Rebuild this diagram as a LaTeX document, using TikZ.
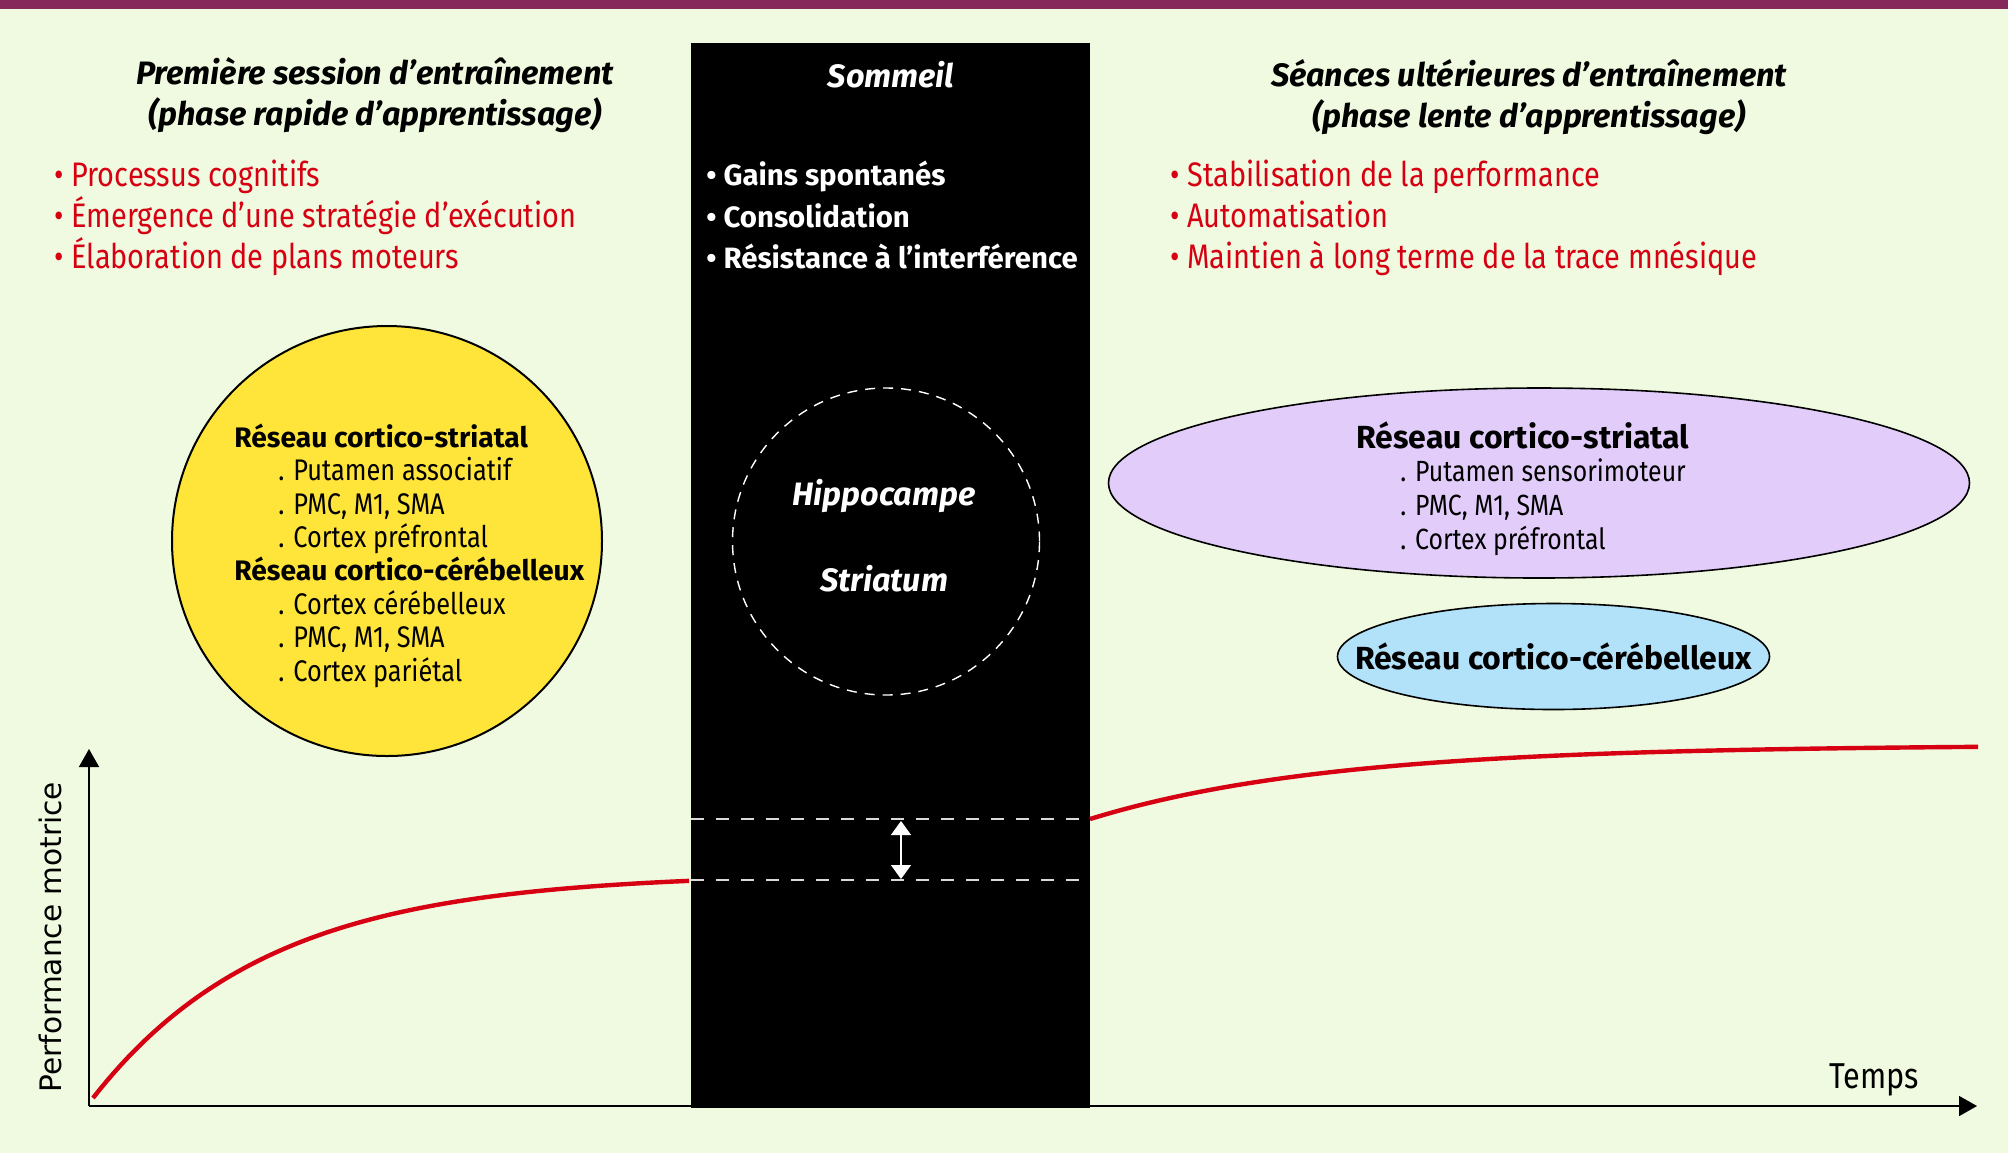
\documentclass[tikz,border=0pt]{standalone}
\usepackage{fontspec}
\setmainfont{Fira Sans}
\newfontfamily\etroit{Fira Sans}[FakeStretch=0.85]
\newfontfamily\axefont{DejaVu Sans}
\usepackage{tikz}
\usetikzlibrary{positioning}
\usetikzlibrary{shapes.geometric}
\usetikzlibrary{arrows.meta}

\definecolor{fond}{RGB}{239,250,224}
\definecolor{bande}{RGB}{134,40,90}
\definecolor{jaune}{RGB}{255,228,58}
\definecolor{lilas}{RGB}{226,205,250}
\definecolor{bleuciel}{RGB}{178,226,250}
\definecolor{rouge}{RGB}{214,0,18}

\tikzset{
  titre/.style={font=\fontsize{16.2}{20.5}\selectfont\bfseries\itshape, align=center, inner sep=0pt},
  liste/.style={font=\etroit\fontsize{17}{20.6}\selectfont, align=left, anchor=west, inner sep=0pt},
  reseau/.style={font=\etroit\fontsize{14.9}{16.7}\selectfont, align=left, anchor=west, inner sep=0pt},
  tirets/.style={white!85!black, line width=0.8pt, dash pattern=on 6.5pt off 6pt},
  courbe/.style={rouge, line width=2.2pt, smooth, samples=80, variable=\t},
  axe/.style={black, line width=0.8pt, -{Triangle[length=9pt,width=10pt]}}
}
\newcommand{\sousitem}{\hspace*{22pt}. }
\newcommand{\entete}[1]{{\rmfamily\bfseries #1}}

\begin{document}
\begin{tikzpicture}[x=0.5pt, y=-0.5pt]
\useasboundingbox (0,0) rectangle (2008,1153);
\fill[fond] (0,0) rectangle (2008,1153);
\fill[bande] (0,0) rectangle (2008,9);

% axes
\coordinate (origine) at (89,1106);
\coordinate (yhaut) at (89,749);
\coordinate (xfin) at (1977,1106);
\draw[axe] (origine) -- (yhaut);
\draw[axe] (origine) -- (xfin);
\node[rotate=90, font=\axefont\fontsize{14.8}{16}\selectfont] (perf) at (50,937) {Performance motrice};
\node[font=\etroit\fontsize{18}{20}\selectfont] (temps) at (1874,1080) {Temps};

% sommeil
\node[fill=black, inner sep=0pt, minimum width=199.5pt, minimum height=532.5pt] (nuit) at (890.5,575.75) {};
\node[titre, text=white] (sommeil) at (891,75) {Sommeil};
\node[liste, text=white, font=\fontsize{14.7}{20.6}\selectfont\bfseries] (gains) at (706,215)
  {\textbullet\ Gains spontanés\\ \textbullet\ Consolidation\\ \textbullet\ Résistance à l’interférence};
\node[circle, draw=white, dash pattern=on 5pt off 4pt, line width=0.7pt, minimum size=153.5pt] (cercleS) at (886,541.5) {};
\node[titre, text=white] (hippo) at (884,496) {Hippocampe};
\node[titre, text=white] (striatum) at (884,579) {Striatum};

% courbes
\draw[courbe, domain=93:689] plot (\t, {1098-224.6*(1-exp(-(\t-93)/175))});
\draw[courbe, domain=1090:1978] plot (\t, {819-74*(1-exp(-(\t-1090)/240))});
\draw[tirets] (691,819) -- (1088,819);
\draw[tirets] (691,880) -- (1082,880);
\coordinate (gainhaut) at (901,821);
\coordinate (gainbas) at (901,879);
\draw[white, line width=0.6pt, {Triangle[length=7pt,width=10pt]}-{Triangle[length=7pt,width=10pt]}] (gainhaut) -- (gainbas);

% premiere session
\node[titre] (titreA) at (375,95) {Première session d’entraînement\\(phase rapide d’apprentissage)};
\node[liste, text=rouge] (listeA) at (54,218)
  {\textbullet\ Processus cognitifs\\ \textbullet\ Émergence d’une stratégie d’exécution\\ \textbullet\ Élaboration de plans moteurs};
\node[circle, draw, fill=jaune, line width=1pt, minimum size=215pt] (cercleA) at (387,541) {};
\node[reseau] (texteA) at (234,555.5)
  {{\fontsize{14.1}{16.7}\selectfont\entete{Réseau cortico-striatal}}\\ \sousitem Putamen associatif\\ \sousitem PMC, M1, SMA\\ \sousitem Cortex préfrontal\\
   {\fontsize{14.1}{16.7}\selectfont\entete{Réseau cortico-cérébelleux}}\\ \sousitem Cortex cérébelleux\\ \sousitem PMC, M1, SMA\\ \sousitem Cortex pariétal};

% seances ulterieures
\node[titre] (titreB) at (1529,97) {Séances ultérieures d’entraînement\\(phase lente d’apprentissage)};
\node[liste, text=rouge] (listeB) at (1170,218)
  {\textbullet\ Stabilisation de la performance\\ \textbullet\ Automatisation\\ \textbullet\ Maintien à long terme de la trace mnésique};
\node[ellipse, draw, fill=lilas, line width=0.8pt, minimum width=430.5pt, minimum height=95pt] (ovaleS) at (1539,483) {};
\node[reseau, font=\etroit\fontsize{14.6}{16.8}\selectfont] (texteB) at (1356,488.5)
  {{\fontsize{16}{16.8}\selectfont\entete{Réseau cortico-striatal}}\\ \sousitem Putamen sensorimoteur\\ \sousitem PMC, M1, SMA\\ \sousitem Cortex préfrontal};
\node[ellipse, draw, fill=bleuciel, line width=0.8pt, minimum width=216pt, minimum height=53pt] (ovaleC) at (1553.5,656.5) {};
\node[font=\fontsize{16}{18}\selectfont\bfseries, inner sep=0pt] (texteC) at (ovaleC) {Réseau cortico-cérébelleux};
\end{tikzpicture}
\end{document}
